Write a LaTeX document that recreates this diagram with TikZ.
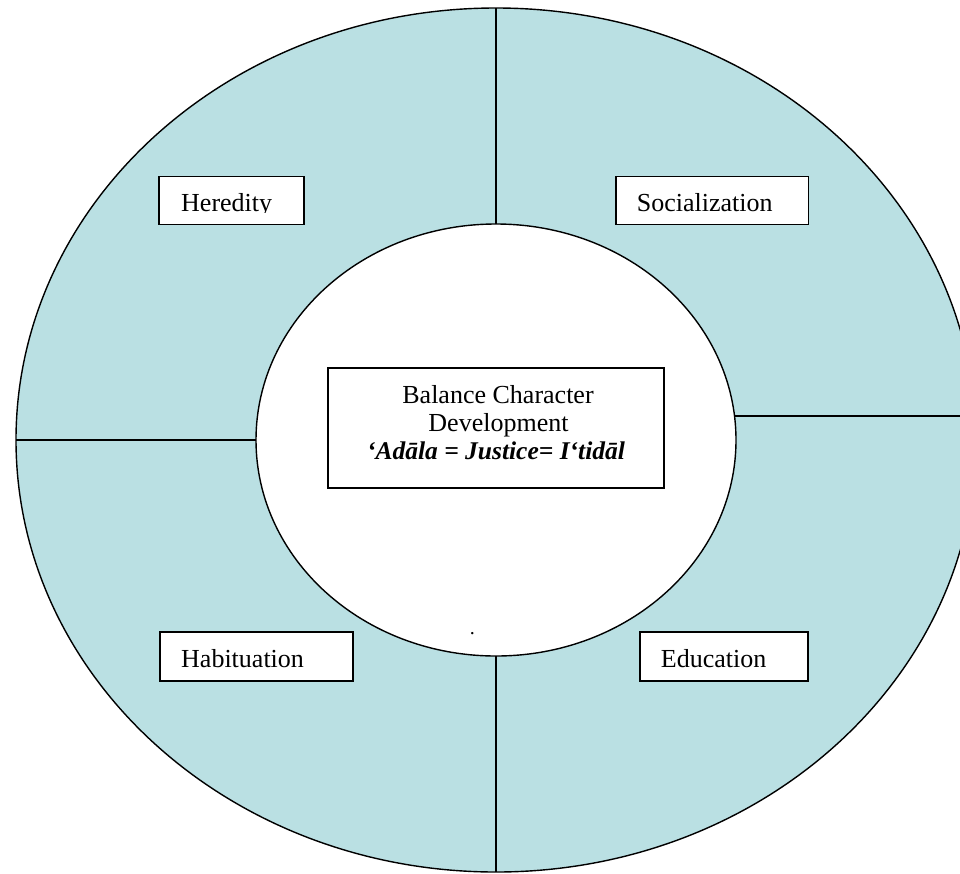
\documentclass[tikz,border=0pt]{standalone}
\usepackage{fontspec}
\setmainfont{Liberation Serif}
\usetikzlibrary{shapes.geometric}
\definecolor{ringfill}{RGB}{186,224,227}
\begin{document}
\begin{tikzpicture}[x=1pt,y=-1pt,
  ring/.style={ellipse, draw=black, line width=1.4pt, inner sep=0pt, outer sep=0pt},
  divider/.style={draw=black, line width=1.4pt},
  labelbox/.style={draw=black, fill=white, line width=1.9pt, anchor=north west, inner sep=0pt, outer sep=0pt},
  labeltext/.style={anchor=base west, inner sep=0pt, font=\fontsize{26}{30}\selectfont},
  centertext/.style={anchor=base, inner sep=0pt, font=\fontsize{26}{30}\selectfont}]
\useasboundingbox (0,0) rectangle (960,873);
\begin{scope}
  \clip (0,0) rectangle (960,873);
  \node[ring, fill=ringfill, minimum width=960, minimum height=864] (outer) at (496,440) {};
  \node[ring, fill=white, minimum width=480, minimum height=432] (inner) at (496,440) {};
  \coordinate (rin) at (734.5,416);
  \coordinate (rout) at (975.3,416);
  \draw[divider] (inner.north) -- (outer.north);
  \draw[divider] (inner.south) -- (outer.south);
  \draw[divider] (inner.west) -- (outer.west);
  \draw[divider] (rin) -- (rout);
\end{scope}
% label boxes
\node[labelbox, minimum width=145, minimum height=48] (hbox) at (159,176.5) {};
\node[labelbox, minimum width=192.5, minimum height=48] (sbox) at (616,176.5) {};
\node[labelbox, minimum width=192.7, minimum height=48.4] (habox) at (160,632.3) {};
\node[labelbox, minimum width=167.7, minimum height=48.4] (ebox) at (640,632.3) {};
\begin{scope}
  \clip (159,176.5) rectangle (304,212.3);
  \node[labeltext] (htext) at (181,211.7) {Heredity};
\end{scope}
\node[labeltext] (stext) at (636.7,211.7) {Socialization};
\node[labeltext] (hatext) at (181,667.3) {Habituation};
\node[labeltext] (etext) at (660.7,667.3) {Education};
% centre box
\node[labelbox, minimum width=335.7, minimum height=120] (cbox) at (328.3,368.3) {};
\node[centertext] (c1) at (498,403.3) {Balance Character};
\node[centertext] (c2) at (498.5,431.7) {Development};
\node[centertext, font=\fontsize{25.5}{30}\selectfont\bfseries\itshape] (c3) at (496,459.3) {‘Adāla = Justice= I‘tidāl};
% stray dot
\node[anchor=base, inner sep=0pt, font=\fontsize{20}{22}\selectfont] (dot) at (472.3,634) {.};
\end{tikzpicture}
\end{document}
